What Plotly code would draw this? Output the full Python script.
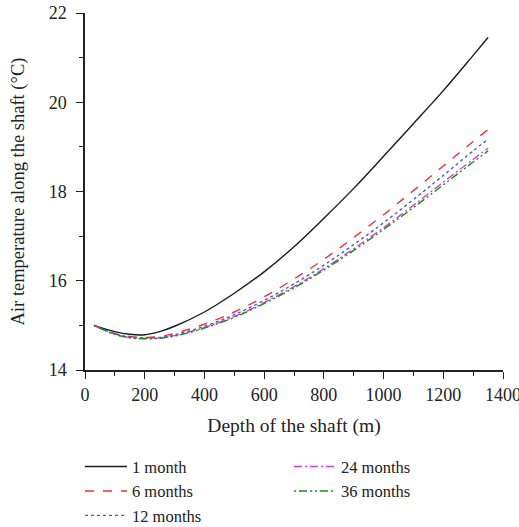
import plotly.graph_objects as go

depth = [30, 100, 150, 200, 250, 300, 400, 500, 600, 700, 800, 900, 1000, 1100, 1200, 1300, 1350]

t_1m = [15.00, 14.86, 14.80, 14.79, 14.86, 14.98, 15.30, 15.72, 16.20, 16.76, 17.40, 18.07, 18.79, 19.52, 20.26, 21.05, 21.45]
t_6m = [15.00, 14.82, 14.75, 14.73, 14.75, 14.82, 15.03, 15.30, 15.64, 16.04, 16.48, 16.97, 17.48, 18.02, 18.57, 19.12, 19.39]
t_12m = [15.00, 14.81, 14.74, 14.72, 14.73, 14.79, 14.98, 15.24, 15.56, 15.93, 16.35, 16.81, 17.30, 17.82, 18.36, 18.91, 19.17]
t_24m = [15.00, 14.80, 14.73, 14.71, 14.72, 14.77, 14.95, 15.20, 15.51, 15.87, 16.27, 16.72, 17.19, 17.69, 18.21, 18.72, 18.97]
t_36m = [15.00, 14.80, 14.72, 14.70, 14.71, 14.76, 14.94, 15.18, 15.49, 15.84, 16.24, 16.68, 17.15, 17.64, 18.15, 18.66, 18.91]

names = ["1 month", "6 months", "12 months", "24 months", "36 months"]
series = [t_1m, t_6m, t_12m, t_24m, t_36m]
colors = ["#1a1a1a", "#f03030", "#4a5cc8", "#cc44cc", "#1a8a1a"]
dashes = ["solid", "dash", "dot", "8px,3px,2px,3px", "2px,3px,8px,3px,2px,3px"]
legends = ["legend", "legend", "legend", "legend2", "legend2"]

FONT = "Liberation Serif"
INK = "#222"

fig = go.Figure()
for n, y, c, d, lg in zip(names, series, colors, dashes, legends):
    fig.add_trace(go.Scatter(
        x=depth, y=y, mode="lines", name=n,
        line=dict(color=c, width=1.4, dash=d, shape="spline"),
        legend=lg,
    ))

axis_common = dict(
    showline=True, linecolor=INK, linewidth=1.5,
    ticks="outside", ticklen=7, tickwidth=1.3, tickcolor=INK,
    showgrid=False, zeroline=False, automargin=False,
    tickfont=dict(family=FONT, size=18, color=INK),
    ticklabeloverflow="allow",
)

fig.update_xaxes(
    range=[0, 1400], tick0=0, dtick=200, ticklabelstandoff=1,
    minor=dict(ticks="outside", ticklen=4, tickwidth=1.3, tickcolor=INK, dtick=100),
    title=dict(text="Depth of the shaft (m)", font=dict(family=FONT, size=19.5, color=INK), standoff=14),
    **axis_common,
)
fig.update_yaxes(
    range=[14, 22], tick0=14, dtick=2, ticklabelstandoff=6,
    minor=dict(ticks="outside", ticklen=4, tickwidth=1.3, tickcolor=INK, dtick=1),
    title=dict(text="Air temperature along the shaft (°C)", font=dict(family=FONT, size=18.5, color=INK), standoff=19),
    **axis_common,
)

legend_common = dict(
    yanchor="top", xanchor="left",
    font=dict(family=FONT, size=16.5, color=INK),
    bgcolor="rgba(0,0,0,0)", tracegroupgap=0, itemwidth=42,
)

fig.update_layout(
    width=519, height=527,
    margin=dict(l=85, r=16, t=13, b=157, autoexpand=False),
    plot_bgcolor="white", paper_bgcolor="white",
    showlegend=True,
    legend=dict(x=-0.012, y=-0.222, **legend_common),
    legend2=dict(x=0.488, y=-0.222, **legend_common),
)

fig.write_html("out.html")
